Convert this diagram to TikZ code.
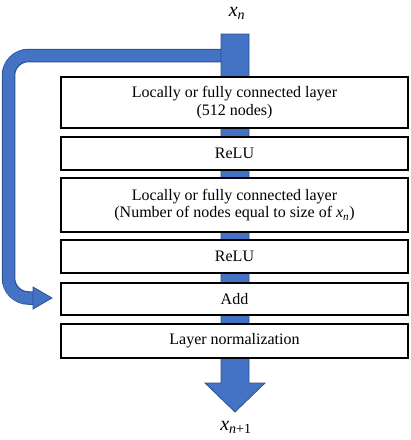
\documentclass[tikz,border=0pt]{standalone}
\usepackage{fontspec}
\setmainfont{Liberation Serif}
\newcommand{\xvar}[1]{\textit{x}\textsubscript{#1}}
\begin{document}
\begin{tikzpicture}[x=1pt,y=-1pt,
  layerbox/.style={draw=black, line width=2pt, fill=white, minimum width=347pt, align=center, inner sep=0pt, font=\fontsize{16}{17.5}\selectfont},
  flowfill/.style={fill=flowblue, draw=flowedge, line width=0.8pt}]
\definecolor{flowblue}{HTML}{4472C4}
\definecolor{flowedge}{HTML}{2F528F}
\useasboundingbox (0,0) rectangle (411,440);
% skip connection
\coordinate (skipstart) at (228,55.5);
\coordinate (skipend) at (33,298);
\draw[flowedge, line width=13.5pt, rounded corners=20pt] (skipstart) -- (8.5,55.5) -- (8.5,298) -- (skipend);
\draw[flowblue, line width=11.5pt, rounded corners=19pt] (skipstart) -- (8.5,55.5) -- (8.5,298) -- ([xshift=1pt]skipend);
\draw[flowfill, line join=miter] (33,287) -- (52,298) -- (33,309) -- cycle;
% main flow arrow
\draw[flowfill] (221,34) -- (249,34) -- (249,383) -- (265,383) -- (235,412) -- (205,383) -- (221,383) -- cycle;
% labels
\node[font=\fontsize{20}{20}\selectfont] (xn) at (237,13) {\xvar{\textit{n}}};
\node[font=\fontsize{20}{20}\selectfont] (xn1) at (236,427) {\xvar{\textit{n}+1}};
% layers
\node[layerbox, minimum height=51pt] (l1) at (234.5,102.5) {Locally or fully connected layer\\(512 nodes)};
\node[layerbox, minimum height=33pt] (r1) at (234.5,153.5) {ReLU};
\node[layerbox, minimum height=54pt] (l2) at (234.5,205) {Locally or fully connected layer\\(Number of nodes equal to size of \xvar{\textit{n}})};
\node[layerbox, minimum height=33pt] (r2) at (234.5,256.5) {ReLU};
\node[layerbox, minimum height=32pt] (add) at (234.5,299) {Add};
\node[layerbox, minimum height=34pt] (ln) at (234.5,341) {Layer normalization};
\end{tikzpicture}
\end{document}
